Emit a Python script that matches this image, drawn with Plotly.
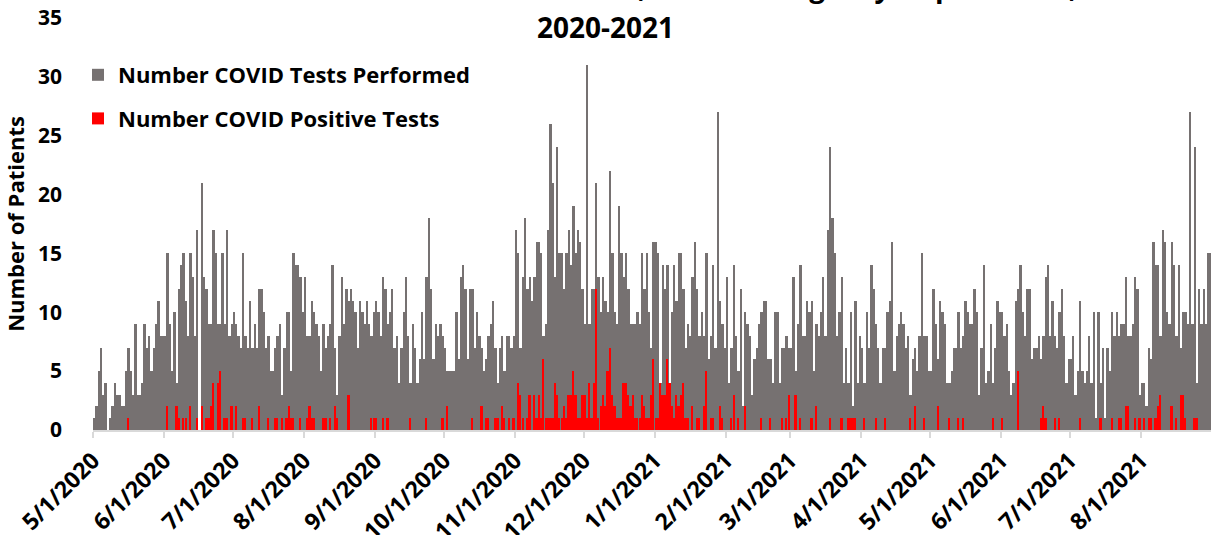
import pandas as pd
import plotly.graph_objects as go

# ---------------- data ----------------
month_starts = ["2020-05-01", "2020-06-01", "2020-07-01", "2020-08-01",
                "2020-09-01", "2020-10-01", "2020-11-01", "2020-12-01",
                "2021-01-01", "2021-02-01", "2021-03-01", "2021-04-01",
                "2021-05-01", "2021-06-01", "2021-07-01", "2021-08-01"]

# daily number of COVID tests performed, one list per month
tests_2020_05 = [1,2,5,7,3,4,0,1,2,4,3,3,2,2,5,7,5,3,9,3,3,4,9,7,8,5,7,9,11,8,8]
tests_2020_06 = [8,15,9,5,10,4,12,14,15,11,8,15,13,8,17,0,21,13,12,9,9,17,15,9,9,15,9,17,8,9]
tests_2020_07 = [10,9,8,7,15,8,7,11,7,9,7,12,12,10,7,8,5,5,7,8,9,3,7,10,10,5,15,14,14,13,10]
tests_2020_08 = [13,8,8,11,10,9,8,5,9,7,8,9,14,7,3,8,13,9,12,11,12,11,10,7,11,10,9,11,9,8,10]
tests_2020_09 = [11,10,8,13,12,9,10,12,7,8,4,7,10,13,8,4,9,7,4,6,10,6,13,18,12,6,9,8,9,8]
tests_2020_10 = [7,5,5,5,5,10,6,13,14,12,6,12,12,7,10,8,7,5,6,8,9,11,7,4,7,8,5,8,8,7,8]
tests_2020_11 = [17,15,7,13,18,12,13,11,13,16,16,15,8,9,17,26,21,13,24,15,15,12,15,17,14,19,15,17,16,12]
tests_2020_12 = [9,31,9,12,12,21,13,10,13,11,10,22,15,10,9,19,15,13,15,12,9,9,9,10,9,15,12,15,10,7,16]
tests_2021_01 = [16,15,4,14,12,14,4,10,14,11,15,15,12,7,9,8,13,16,12,8,10,8,15,6,8,14,7,27,11,9,7]
tests_2021_02 = [13,4,7,14,8,5,12,2,10,9,8,3,6,7,9,10,11,11,6,6,4,10,10,4,7,7,8,7]
tests_2021_03 = [7,13,5,9,14,8,8,11,10,11,5,9,8,10,13,8,17,24,18,15,8,10,13,4,7,4,10,2,11,4,8]
tests_2021_04 = [7,4,10,7,14,12,9,7,4,7,7,10,11,16,5,8,9,10,9,7,8,3,6,7,5,8,15,8,8,5]
tests_2021_05 = [5,12,9,6,11,10,9,4,4,5,7,7,10,7,8,11,10,9,9,12,10,3,7,14,4,5,9,4,7,11,10]
tests_2021_06 = [10,8,9,5,3,4,11,12,14,10,8,12,12,6,7,7,8,6,8,13,14,8,11,8,7,10,12,8,4,6]
tests_2021_07 = [6,8,3,5,11,5,4,5,8,4,10,1,10,4,7,1,7,5,10,8,10,8,9,9,13,8,8,9,13,12,3]
tests_2021_08 = [4,4,2,7,6,16,14,14,8,17,16,10,9,16,14,8,14,7,10,10,9,27,9,24,4,12,9,12,9,15,15]

# daily number of positive tests, {day of month: count} (days not listed = 0)
pos_2020_05 = {16: 1}
pos_2020_06 = {2: 2, 6: 2, 7: 1, 9: 1, 10: 1, 12: 2, 15: 1, 17: 2, 19: 1, 20: 1,
               21: 2, 22: 4, 24: 4, 25: 5, 27: 1, 28: 1, 30: 2}
pos_2020_07 = {2: 2, 5: 1, 6: 1, 9: 1, 12: 2, 16: 1, 19: 1, 20: 1, 22: 1, 24: 1,
               25: 2, 26: 1, 27: 1, 30: 1}
pos_2020_08 = {2: 1, 3: 2, 4: 1, 5: 1, 9: 1, 10: 1, 12: 1, 14: 2, 15: 1, 20: 3,
               30: 1, 31: 1}
pos_2020_09 = {1: 1, 4: 1, 6: 1, 16: 1, 23: 1, 30: 1}
pos_2020_10 = {2: 2, 13: 1, 17: 2, 19: 1, 20: 1, 23: 1, 24: 1, 26: 2, 27: 1, 29: 1, 31: 1}
pos_2020_11 = {2: 4, 3: 3, 4: 1, 6: 1, 7: 3, 9: 3, 10: 1, 11: 3, 12: 1, 13: 6,
               14: 1, 15: 1, 16: 1, 17: 1, 18: 4, 19: 3, 20: 1, 21: 1, 22: 2, 23: 1,
               24: 3, 25: 3, 26: 5, 27: 3, 28: 1, 29: 1, 30: 3}
pos_2020_12 = {1: 3, 2: 1, 3: 4, 4: 1, 5: 4, 6: 12, 7: 1, 8: 2, 9: 3, 10: 2,
               11: 5, 12: 7, 13: 3, 14: 2, 15: 1, 16: 1, 17: 1, 18: 4, 19: 4, 20: 3,
               21: 2, 22: 3, 23: 1, 24: 1, 25: 1, 26: 3, 27: 2, 28: 1, 29: 1, 30: 3, 31: 6}
pos_2021_01 = {1: 1, 2: 1, 3: 4, 4: 3, 5: 3, 6: 6, 7: 4, 8: 2, 9: 1, 10: 3,
               11: 2, 12: 3, 13: 4, 14: 1, 15: 1, 17: 2, 19: 1, 20: 1, 22: 2, 23: 5,
               25: 1, 26: 1, 29: 2, 30: 1}
pos_2021_02 = {3: 1, 4: 3, 6: 1, 9: 2, 16: 1, 20: 1, 25: 1, 27: 1, 28: 3}
pos_2021_03 = {3: 3, 5: 1, 10: 1, 12: 2, 18: 1, 23: 1, 26: 1, 27: 1, 28: 1, 29: 1}
pos_2021_04 = {2: 1, 7: 1, 11: 1, 22: 1, 24: 2, 28: 1}
pos_2021_05 = {4: 2, 9: 1, 13: 1, 15: 1, 28: 1}
pos_2021_06 = {1: 1, 8: 5, 18: 1, 19: 2, 20: 1, 24: 1, 26: 1}
pos_2021_07 = {5: 1, 14: 1, 19: 1, 22: 1, 23: 1, 25: 2, 26: 2, 29: 1, 31: 1}
pos_2021_08 = {2: 1, 4: 1, 5: 1, 7: 1, 8: 2, 9: 3, 14: 2, 16: 1, 18: 3, 19: 3,
               20: 1, 24: 1, 25: 1}

tests_by_month = [tests_2020_05, tests_2020_06, tests_2020_07, tests_2020_08,
                  tests_2020_09, tests_2020_10, tests_2020_11, tests_2020_12,
                  tests_2021_01, tests_2021_02, tests_2021_03, tests_2021_04,
                  tests_2021_05, tests_2021_06, tests_2021_07, tests_2021_08]
pos_by_month = [pos_2020_05, pos_2020_06, pos_2020_07, pos_2020_08,
                pos_2020_09, pos_2020_10, pos_2020_11, pos_2020_12,
                pos_2021_01, pos_2021_02, pos_2021_03, pos_2021_04,
                pos_2021_05, pos_2021_06, pos_2021_07, pos_2021_08]

# the chart's title runs off the top of the picture: only the end of line 1 peeks in
title_line1 = "COVID Tests Performed and Positive, Adult Emergency Department,"
title_line2 = "2020-2021"
y_title = "Number of Patients"
name_tests = "Number COVID Tests Performed"
name_pos = "Number COVID Positive Tests"

# ---------------- build daily series ----------------
test_dates, test_vals, pos_dates, pos_vals = [], [], [], []
for start, tvals, pdict in zip(month_starts, tests_by_month, pos_by_month):
    days = pd.date_range(start, periods=len(tvals), freq="D")
    assert days[-1].month == days[0].month and (days[-1] + pd.Timedelta(days=1)).day == 1, start
    test_dates += list(days)
    test_vals += tvals
    for d, v in pdict.items():
        pos_dates.append(days[d - 1])
        pos_vals.append(v)

DAY = 86400000  # ms
FONT = "Open Sans"
PLOT_H = 412  # px height of plotting area

fig = go.Figure()
fig.add_trace(go.Bar(
    x=test_dates, y=test_vals, name=name_tests, legendgroup="a",
    marker=dict(color="#767171", line=dict(width=0)),
    width=DAY, offset=0,
))
fig.add_trace(go.Bar(
    x=pos_dates, y=pos_vals, name=name_pos, legendgroup="b",
    marker=dict(color="#FF0000", line=dict(width=0)),
    width=DAY * 0.75, offset=DAY * 0.125,
))

fig.update_layout(
    width=1211, height=535,
    margin=dict(l=93, r=0, t=18, b=105, autoexpand=False),
    paper_bgcolor="white", plot_bgcolor="white",
    barmode="overlay", bargap=0,
    font=dict(family=FONT, size=21, color="black", weight="bold"),
    title=dict(
        text=title_line2,
        x=0.5, xref="container", xanchor="center",
        y=1 - 28 / 535, yref="container", yanchor="middle",
        font=dict(family=FONT, size=28, color="black", weight="bold"),
    ),
    annotations=[dict(
        text=title_line1, showarrow=False,
        xref="paper", x=(605.5 - 93) / 1118, xanchor="center",
        yref="paper", y=(430 + 14) / PLOT_H, yanchor="middle",
        font=dict(family=FONT, size=28, color="black", weight="bold"),
    )],
    legend=dict(
        x=(78 - 93) / 1118, xanchor="left",
        y=(430 - 54) / PLOT_H, yanchor="top",
        bgcolor="rgba(0,0,0,0)",
        font=dict(family=FONT, size=22, color="black", weight="bold"),
        tracegroupgap=12,
    ),
    showlegend=True,
)

fig.update_xaxes(
    type="date",
    range=["2020-05-01", "2021-08-31 14:00"],
    tick0="2020-05-01", dtick="M1",
    tickformat="%-m/%-d/%Y",
    tickangle=-45,
    ticks="outside", ticklen=6, tickwidth=1.5, tickcolor="#d9d9d9",
    showline=True, linecolor="#d9d9d9", linewidth=2,
    showgrid=False, zeroline=False,
    tickfont=dict(family=FONT, size=23, color="black", weight="bold"),
)
fig.update_yaxes(
    range=[0, 35], dtick=5, tick0=0,
    showgrid=False, zeroline=False, showline=False, ticks="",
    ticklabelstandoff=30,
    tickfont=dict(family=FONT, size=21, color="black", weight="bold"),
    title=dict(text=y_title, standoff=8,
               font=dict(family=FONT, size=22, color="black", weight="bold")),
)

fig.write_html("out.html", config={"displayModeBar": False},
               post_script="document.body.style.margin='0';")
